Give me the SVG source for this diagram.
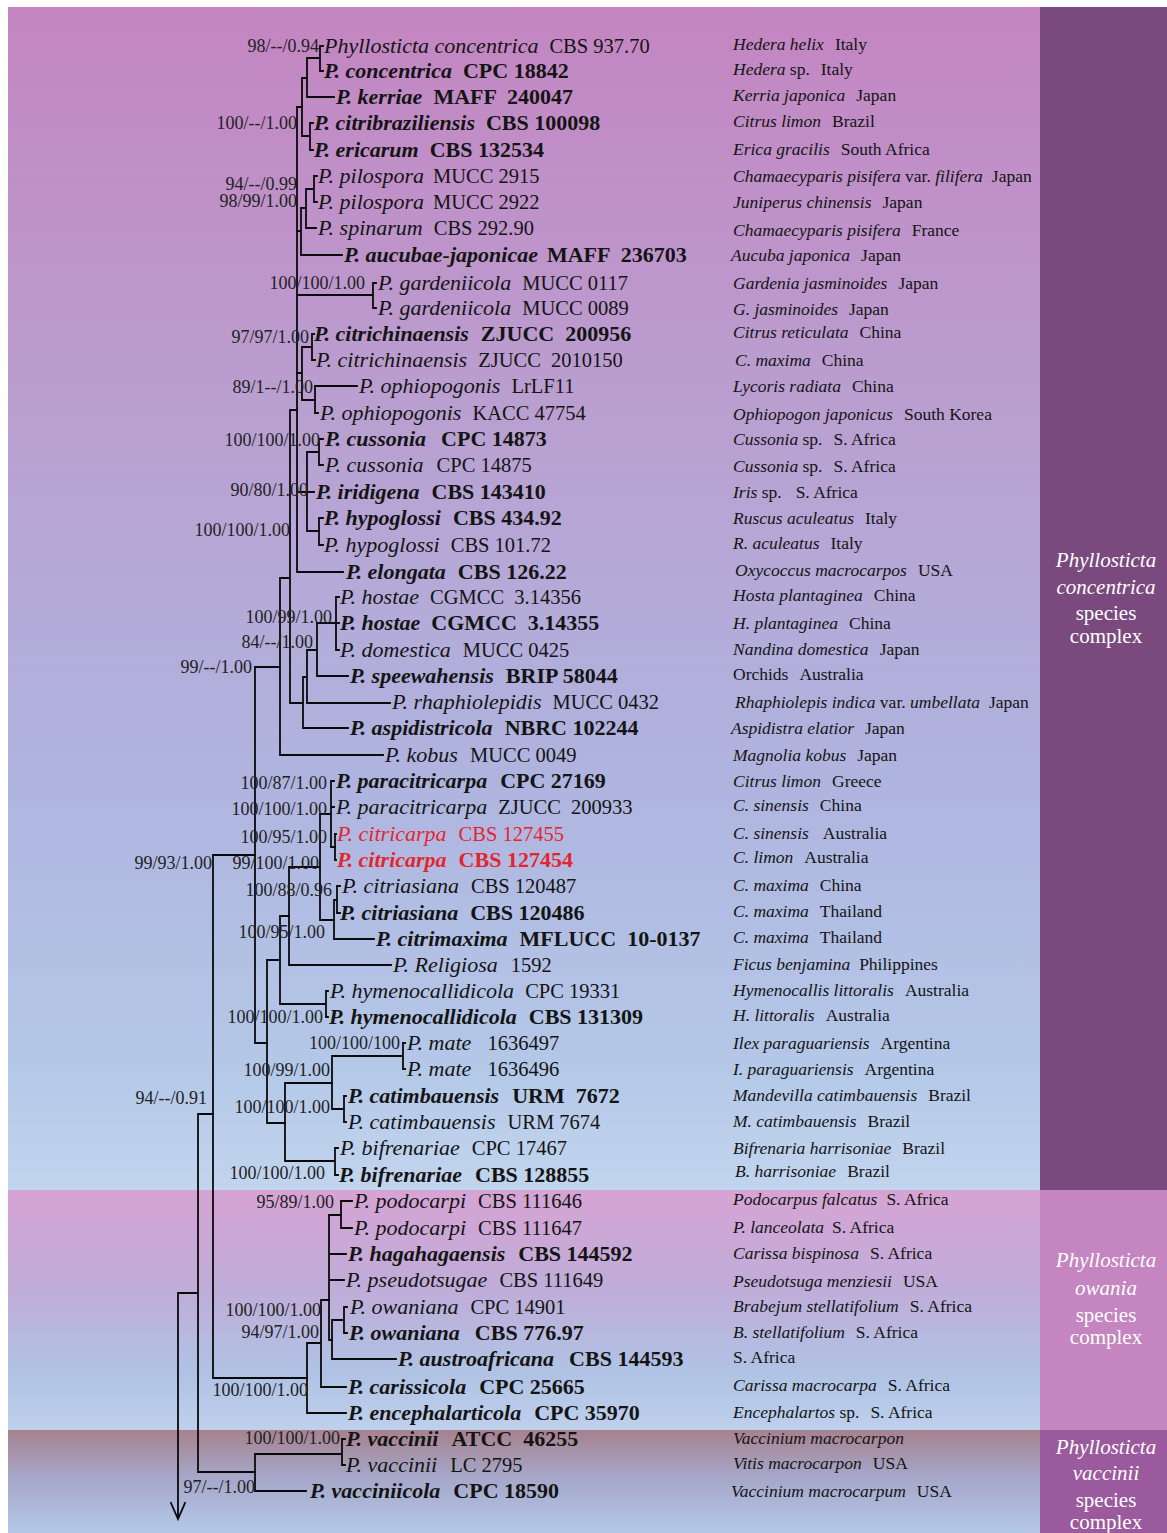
<svg xmlns="http://www.w3.org/2000/svg" width="1167" height="1533" viewBox="0 0 1167 1533">
<defs>
<linearGradient id="gMain" x1="0" y1="0" x2="0" y2="1">
<stop offset="0" stop-color="#c485c1"/>
<stop offset="0.35" stop-color="#b9a0d1"/>
<stop offset="0.65" stop-color="#afb4df"/>
<stop offset="0.9" stop-color="#b4c8e8"/>
<stop offset="1" stop-color="#c2d5ee"/>
</linearGradient>
<linearGradient id="gOw" x1="0" y1="0" x2="0" y2="1">
<stop offset="0" stop-color="#d6a4d4"/>
<stop offset="0.4" stop-color="#c0acd8"/>
<stop offset="0.75" stop-color="#b0c2e4"/>
<stop offset="1" stop-color="#bed0ec"/>
</linearGradient>
<linearGradient id="gVa" x1="0" y1="0" x2="0" y2="1">
<stop offset="0" stop-color="#a6828e"/>
<stop offset="0.45" stop-color="#a6a6c8"/>
<stop offset="1" stop-color="#b4c8e8"/>
</linearGradient>
</defs>
<style>
text{font-family:"Liberation Serif","Times New Roman",serif;fill:#141414;white-space:pre}
.tl{stroke:#0a0a0a;stroke-width:1.8;fill:none;stroke-linecap:square}
.r{font-size:20.5px}
.r .it{font-size:22px;font-style:italic}
.b{font-size:22px;font-weight:bold}
.b .it{font-style:italic}
.red{fill:#e3262c}
.red tspan{fill:#e3262c}
.h{font-size:17.5px}
.h .it{font-style:italic}
.s{font-size:18px;text-anchor:end;fill:#222}
.cx{font-size:21px;fill:#ffffff;text-anchor:middle}
.cx .it{font-style:italic}
</style>
<rect x="0" y="0" width="1167" height="1533" fill="#ffffff"/>
<g id="background">
<rect x="8" y="7" width="1032" height="1183" fill="url(#gMain)"/>
<rect x="1040" y="7" width="127" height="1183" fill="#7a4a7e"/>
<rect x="8" y="1190" width="1032" height="240" fill="url(#gOw)"/>
<rect x="1040" y="1190" width="127" height="240" fill="#c485c0"/>
<rect x="8" y="1430" width="1032" height="103" fill="url(#gVa)"/>
<rect x="1040" y="1430" width="127" height="103" fill="#9a5a9d"/>
</g>
<g id="connectors">
<path class="tl" d="M320 46V71M320 46H323M320 71H323M307 58H320M307 58V97H334"/>
<path class="tl" d="M302 78V136M302 78H307M302 136H310M310 123V150M310 123H313M310 150H313"/>
<path class="tl" d="M297 107V572H343M297 107H302"/>
<path class="tl" d="M314 176V202M314 176H317M314 202H317M306 189H314M306 189V228H316"/>
<path class="tl" d="M301 208H306M301 208V255H342M297 231H301"/>
<path class="tl" d="M297 295H373M373 283V308M373 283H376M373 308H376"/>
<path class="tl" d="M312 334V360M312 334H314M312 360H315M302 347H312M302 347V400H315M297 373H302"/>
<path class="tl" d="M315 386V413M315 386H357M315 413H318"/>
<path class="tl" d="M319 439V465M319 439H323M319 465H323M307 452H319M307 452V531H319M307 492H314M297 492H307"/>
<path class="tl" d="M319 518V545M319 518H323M319 545H323"/>
<path class="tl" d="M290 410H297M290 410V703H303"/>
<path class="tl" d="M336 597V650M336 597H339M336 623H339M336 650H339M317 623H336"/>
<path class="tl" d="M317 623V676H348M307 650H317M307 650V703H390M303 677H307M303 677V728H348"/>
<path class="tl" d="M280 578H290M280 578V755H383"/>
<path class="tl" d="M255 667H280M255 667V1043H267"/>
<path class="tl" d="M335 834V860M335 834H336M335 860H336"/>
<path class="tl" d="M331 781V847M331 781H334M331 807H334M331 847H335"/>
<path class="tl" d="M320 814H331M320 814V920H334"/>
<path class="tl" d="M337 886V913M337 886H340M337 913H340M334 900H337M334 900V939H374"/>
<path class="tl" d="M289 867H320M289 867V965H391"/>
<path class="tl" d="M280 916H289M280 916V1004H326M326 991V1017M326 991H328M326 1017H328"/>
<path class="tl" d="M267 960H280M267 960V1123H285"/>
<path class="tl" d="M285 1083V1161H335M285 1083H332M335 1148V1175M335 1148H338M335 1175H338"/>
<path class="tl" d="M332 1056V1109H344M332 1056H403M403 1043V1069M403 1043H405M403 1069H405M344 1096V1122M344 1096H346M344 1122H346"/>
<path class="tl" d="M213 855H255M213 855V1378H307"/>
<path class="tl" d="M307 1343V1413H346M307 1343H321M321 1300V1387H346M321 1300H329"/>
<path class="tl" d="M329 1215V1340M329 1215H341M329 1254H346M329 1280H344M329 1340H332"/>
<path class="tl" d="M341 1201V1228M341 1201H352M341 1228H352"/>
<path class="tl" d="M332 1320V1359H396M344 1307V1333M344 1307H347M344 1333H347M332 1320H344"/>
<path class="tl" d="M198 1114H213M198 1114V1472H255"/>
<path class="tl" d="M255 1454V1491H306M255 1454H342M342 1439V1465M342 1439H345M342 1465H345"/>
<path class="tl" d="M178 1293H198M178 1293V1518M171 1503L178 1519L185 1503"/>
</g>
<g id="support">
<text class="s" x="319" y="52">98/--/0.94</text>
<text class="s" x="297" y="129">100/--/1.00</text>
<text class="s" x="297" y="190">94/--/0.99</text>
<text class="s" x="297" y="207">98/99/1.00</text>
<text class="s" x="365" y="289">100/100/1.00</text>
<text class="s" x="309" y="343">97/97/1.00</text>
<text class="s" x="313" y="393">89/1--/1.00</text>
<text class="s" x="320" y="446">100/100/1.00</text>
<text class="s" x="308" y="496">90/80/1.00</text>
<text class="s" x="290" y="536">100/100/1.00</text>
<text class="s" x="332" y="623">100/99/1.00</text>
<text class="s" x="313" y="648">84/--/1.00</text>
<text class="s" x="252" y="673">99/--/1.00</text>
<text class="s" x="327" y="789">100/87/1.00</text>
<text class="s" x="327" y="815">100/100/1.00</text>
<text class="s" x="327" y="843">100/95/1.00</text>
<text class="s" x="212" y="869">99/93/1.00</text>
<text class="s" x="319" y="869">99/100/1.00</text>
<text class="s" x="332" y="896">100/88/0.96</text>
<text class="s" x="325" y="938">100/95/1.00</text>
<text class="s" x="323" y="1023">100/100/1.00</text>
<text class="s" x="400" y="1049">100/100/100</text>
<text class="s" x="330" y="1076">100/99/1.00</text>
<text class="s" x="207" y="1104">94/--/0.91</text>
<text class="s" x="330" y="1113">100/100/1.00</text>
<text class="s" x="325" y="1179">100/100/1.00</text>
<text class="s" x="334" y="1208">95/89/1.00</text>
<text class="s" x="321" y="1316">100/100/1.00</text>
<text class="s" x="319" y="1338">94/97/1.00</text>
<text class="s" x="308" y="1396">100/100/1.00</text>
<text class="s" x="340" y="1444">100/100/1.00</text>
<text class="s" x="255" y="1493">97/--/1.00</text>
</g>
<g id="taxa">
<g id="t01"><text class="r" x="324" y="53"><tspan class="it">Phyllosticta concentrica</tspan><tspan dx="11">CBS 937.70</tspan></text><text class="h" x="733" y="50"><tspan class="it">Hedera helix</tspan><tspan dx="11">Italy</tspan></text></g>
<g id="t02"><text class="b" x="324" y="78"><tspan class="it">P. concentrica</tspan><tspan dx="11">CPC 18842</tspan></text><text class="h" x="733" y="75"><tspan class="it">Hedera</tspan> sp.<tspan dx="11">Italy</tspan></text></g>
<g id="t03"><text class="b" x="336" y="104"><tspan class="it">P. kerriae</tspan><tspan dx="11">MAFF  240047</tspan></text><text class="h" x="733" y="101"><tspan class="it">Kerria japonica</tspan><tspan dx="11">Japan</tspan></text></g>
<g id="t04"><text class="b" x="314" y="130"><tspan class="it">P. citribraziliensis</tspan><tspan dx="11">CBS 100098</tspan></text><text class="h" x="733" y="127"><tspan class="it">Citrus limon</tspan><tspan dx="11">Brazil</tspan></text></g>
<g id="t05"><text class="b" x="314" y="157"><tspan class="it">P. ericarum</tspan><tspan dx="11">CBS 132534</tspan></text><text class="h" x="733" y="155"><tspan class="it">Erica gracilis</tspan><tspan dx="11">South Africa</tspan></text></g>
<g id="t06"><text class="r" x="318" y="183"><tspan class="it">P. pilospora</tspan><tspan dx="9">MUCC 2915</tspan></text><text class="h" x="733" y="182"><tspan class="it">Chamaecyparis pisifera</tspan> var. <tspan class="it">filifera</tspan><tspan dx="9">Japan</tspan></text></g>
<g id="t07"><text class="r" x="318" y="209"><tspan class="it">P. pilospora</tspan><tspan dx="9">MUCC 2922</tspan></text><text class="h" x="733" y="208"><tspan class="it">Juniperus chinensis</tspan><tspan dx="11">Japan</tspan></text></g>
<g id="t08"><text class="r" x="318" y="235"><tspan class="it">P. spinarum</tspan><tspan dx="11">CBS 292.90</tspan></text><text class="h" x="733" y="236"><tspan class="it">Chamaecyparis pisifera</tspan><tspan dx="11">France</tspan></text></g>
<g id="t09"><text class="b" x="344" y="262"><tspan class="it">P. aucubae-japonicae</tspan><tspan dx="9">MAFF  236703</tspan></text><text class="h" x="731" y="261"><tspan class="it">Aucuba japonica</tspan><tspan dx="11">Japan</tspan></text></g>
<g id="t10"><text class="r" x="378" y="290"><tspan class="it">P. gardeniicola</tspan><tspan dx="11">MUCC 0117</tspan></text><text class="h" x="733" y="289"><tspan class="it">Gardenia jasminoides</tspan><tspan dx="11">Japan</tspan></text></g>
<g id="t11"><text class="r" x="378" y="315"><tspan class="it">P. gardeniicola</tspan><tspan dx="11">MUCC 0089</tspan></text><text class="h" x="733" y="315"><tspan class="it">G. jasminoides</tspan><tspan dx="11">Japan</tspan></text></g>
<g id="t12"><text class="b" x="314" y="341"><tspan class="it">P. citrichinaensis</tspan><tspan dx="12">ZJUCC  200956</tspan></text><text class="h" x="733" y="338"><tspan class="it">Citrus reticulata</tspan><tspan dx="11">China</tspan></text></g>
<g id="t13"><text class="r" x="316" y="367"><tspan class="it">P. citrichinaensis</tspan><tspan dx="11">ZJUCC  2010150</tspan></text><text class="h" x="735" y="366"><tspan class="it">C. maxima</tspan><tspan dx="11">China</tspan></text></g>
<g id="t14"><text class="r" x="359" y="393"><tspan class="it">P. ophiopogonis</tspan><tspan dx="11">LrLF11</tspan></text><text class="h" x="733" y="392"><tspan class="it">Lycoris radiata</tspan><tspan dx="11">China</tspan></text></g>
<g id="t15"><text class="r" x="320" y="420"><tspan class="it">P. ophiopogonis</tspan><tspan dx="11">KACC 47754</tspan></text><text class="h" x="733" y="420"><tspan class="it">Ophiopogon japonicus</tspan><tspan dx="11">South Korea</tspan></text></g>
<g id="t16"><text class="b" x="325" y="446"><tspan class="it">P. cussonia</tspan><tspan dx="15">CPC 14873</tspan></text><text class="h" x="733" y="445"><tspan class="it">Cussonia</tspan> sp.<tspan dx="11">S. Africa</tspan></text></g>
<g id="t17"><text class="r" x="325" y="472"><tspan class="it">P. cussonia</tspan><tspan dx="13">CPC 14875</tspan></text><text class="h" x="733" y="472"><tspan class="it">Cussonia</tspan> sp.<tspan dx="11">S. Africa</tspan></text></g>
<g id="t18"><text class="b" x="316" y="499"><tspan class="it">P. iridigena</tspan><tspan dx="12">CBS 143410</tspan></text><text class="h" x="733" y="498"><tspan class="it">Iris</tspan> sp.<tspan dx="14">S. Africa</tspan></text></g>
<g id="t19"><text class="b" x="324" y="525"><tspan class="it">P. hypoglossi</tspan><tspan dx="12">CBS 434.92</tspan></text><text class="h" x="733" y="524"><tspan class="it">Ruscus aculeatus</tspan><tspan dx="11">Italy</tspan></text></g>
<g id="t20"><text class="r" x="324" y="552"><tspan class="it">P. hypoglossi</tspan><tspan dx="11">CBS 101.72</tspan></text><text class="h" x="733" y="549"><tspan class="it">R. aculeatus</tspan><tspan dx="11">Italy</tspan></text></g>
<g id="t21"><text class="b" x="346" y="579"><tspan class="it">P. elongata</tspan><tspan dx="12">CBS 126.22</tspan></text><text class="h" x="735" y="576"><tspan class="it">Oxycoccus macrocarpos</tspan><tspan dx="11">USA</tspan></text></g>
<g id="t22"><text class="r" x="340" y="604"><tspan class="it">P. hostae</tspan><tspan dx="11">CGMCC  3.14356</tspan></text><text class="h" x="733" y="601"><tspan class="it">Hosta plantaginea</tspan><tspan dx="11">China</tspan></text></g>
<g id="t23"><text class="b" x="340" y="630"><tspan class="it">P. hostae</tspan><tspan dx="11">CGMCC  3.14355</tspan></text><text class="h" x="733" y="629"><tspan class="it">H. plantaginea</tspan><tspan dx="11">China</tspan></text></g>
<g id="t24"><text class="r" x="340" y="657"><tspan class="it">P. domestica</tspan><tspan dx="12">MUCC 0425</tspan></text><text class="h" x="733" y="655"><tspan class="it">Nandina domestica</tspan><tspan dx="11">Japan</tspan></text></g>
<g id="t25"><text class="b" x="350" y="683"><tspan class="it">P. speewahensis</tspan><tspan dx="12">BRIP 58044</tspan></text><text class="h" x="733" y="680">Orchids<tspan dx="11">Australia</tspan></text></g>
<g id="t26"><text class="r" x="392" y="709"><tspan class="it">P. rhaphiolepidis</tspan><tspan dx="11">MUCC 0432</tspan></text><text class="h" x="735" y="708"><tspan class="it">Rhaphiolepis indica</tspan> var. <tspan class="it">umbellata</tspan><tspan dx="9">Japan</tspan></text></g>
<g id="t27"><text class="b" x="350" y="735"><tspan class="it">P. aspidistricola</tspan><tspan dx="12">NBRC 102244</tspan></text><text class="h" x="731" y="734"><tspan class="it">Aspidistra elatior</tspan><tspan dx="11">Japan</tspan></text></g>
<g id="t28"><text class="r" x="385" y="762"><tspan class="it">P. kobus</tspan><tspan dx="12">MUCC 0049</tspan></text><text class="h" x="733" y="761"><tspan class="it">Magnolia kobus</tspan><tspan dx="11">Japan</tspan></text></g>
<g id="t29"><text class="b" x="336" y="788"><tspan class="it">P. paracitricarpa</tspan><tspan dx="13">CPC 27169</tspan></text><text class="h" x="733" y="787"><tspan class="it">Citrus limon</tspan><tspan dx="11">Greece</tspan></text></g>
<g id="t30"><text class="r" x="336" y="814"><tspan class="it">P. paracitricarpa</tspan><tspan dx="11">ZJUCC  200933</tspan></text><text class="h" x="733" y="811"><tspan class="it">C. sinensis</tspan><tspan dx="11">China</tspan></text></g>
<g id="t31"><text class="r red" x="337" y="841"><tspan class="it">P. citricarpa</tspan><tspan dx="12">CBS 127455</tspan></text><text class="h" x="733" y="839"><tspan class="it">C. sinensis</tspan><tspan dx="14">Australia</tspan></text></g>
<g id="t32"><text class="b red" x="337" y="867"><tspan class="it">P. citricarpa</tspan><tspan dx="12">CBS 127454</tspan></text><text class="h" x="733" y="863"><tspan class="it">C. limon</tspan><tspan dx="11">Australia</tspan></text></g>
<g id="t33"><text class="r" x="342" y="893"><tspan class="it">P. citriasiana</tspan><tspan dx="12">CBS 120487</tspan></text><text class="h" x="733" y="891"><tspan class="it">C. maxima</tspan><tspan dx="11">China</tspan></text></g>
<g id="t34"><text class="b" x="340" y="920"><tspan class="it">P. citriasiana</tspan><tspan dx="12">CBS 120486</tspan></text><text class="h" x="733" y="917"><tspan class="it">C. maxima</tspan><tspan dx="11">Thailand</tspan></text></g>
<g id="t35"><text class="b" x="376" y="946"><tspan class="it">P. citrimaxima</tspan><tspan dx="12">MFLUCC  10-0137</tspan></text><text class="h" x="733" y="943"><tspan class="it">C. maxima</tspan><tspan dx="11">Thailand</tspan></text></g>
<g id="t36"><text class="r" x="393" y="972"><tspan class="it">P. Religiosa</tspan><tspan dx="13">1592</tspan></text><text class="h" x="733" y="970"><tspan class="it">Ficus benjamina</tspan><tspan dx="9">Philippines</tspan></text></g>
<g id="t37"><text class="r" x="330" y="998"><tspan class="it">P. hymenocallidicola</tspan><tspan dx="11">CPC 19331</tspan></text><text class="h" x="733" y="996"><tspan class="it">Hymenocallis littoralis</tspan><tspan dx="11">Australia</tspan></text></g>
<g id="t38"><text class="b" x="329" y="1024"><tspan class="it">P. hymenocallidicola</tspan><tspan dx="12">CBS 131309</tspan></text><text class="h" x="733" y="1021"><tspan class="it">H. littoralis</tspan><tspan dx="11">Australia</tspan></text></g>
<g id="t39"><text class="r" x="407" y="1050"><tspan class="it">P. mate</tspan><tspan dx="16">1636497</tspan></text><text class="h" x="733" y="1049"><tspan class="it">Ilex paraguariensis</tspan><tspan dx="11">Argentina</tspan></text></g>
<g id="t40"><text class="r" x="407" y="1076"><tspan class="it">P. mate</tspan><tspan dx="16">1636496</tspan></text><text class="h" x="733" y="1075"><tspan class="it">I. paraguariensis</tspan><tspan dx="11">Argentina</tspan></text></g>
<g id="t41"><text class="b" x="348" y="1103"><tspan class="it">P. catimbauensis</tspan><tspan dx="13">URM  7672</tspan></text><text class="h" x="733" y="1101"><tspan class="it">Mandevilla catimbauensis</tspan><tspan dx="11">Brazil</tspan></text></g>
<g id="t42"><text class="r" x="348" y="1129"><tspan class="it">P. catimbauensis</tspan><tspan dx="12">URM 7674</tspan></text><text class="h" x="733" y="1127"><tspan class="it">M. catimbauensis</tspan><tspan dx="11">Brazil</tspan></text></g>
<g id="t43"><text class="r" x="340" y="1155"><tspan class="it">P. bifrenariae</tspan><tspan dx="12">CPC 17467</tspan></text><text class="h" x="733" y="1154"><tspan class="it">Bifrenaria harrisoniae</tspan><tspan dx="11">Brazil</tspan></text></g>
<g id="t44"><text class="b" x="339" y="1182"><tspan class="it">P. bifrenariae</tspan><tspan dx="13">CBS 128855</tspan></text><text class="h" x="735" y="1177"><tspan class="it">B. harrisoniae</tspan><tspan dx="11">Brazil</tspan></text></g>
<g id="t45"><text class="r" x="354" y="1208"><tspan class="it">P. podocarpi</tspan><tspan dx="12">CBS 111646</tspan></text><text class="h" x="733" y="1205"><tspan class="it">Podocarpus falcatus</tspan><tspan dx="9">S. Africa</tspan></text></g>
<g id="t46"><text class="r" x="354" y="1235"><tspan class="it">P. podocarpi</tspan><tspan dx="12">CBS 111647</tspan></text><text class="h" x="733" y="1233"><tspan class="it">P. lanceolata</tspan><tspan dx="8">S. Africa</tspan></text></g>
<g id="t47"><text class="b" x="348" y="1261"><tspan class="it">P. hagahagaensis</tspan><tspan dx="13">CBS 144592</tspan></text><text class="h" x="733" y="1259"><tspan class="it">Carissa bispinosa</tspan><tspan dx="11">S. Africa</tspan></text></g>
<g id="t48"><text class="r" x="346" y="1287"><tspan class="it">P. pseudotsugae</tspan><tspan dx="12">CBS 111649</tspan></text><text class="h" x="733" y="1287"><tspan class="it">Pseudotsuga menziesii</tspan><tspan dx="11">USA</tspan></text></g>
<g id="t49"><text class="r" x="350" y="1314"><tspan class="it">P. owaniana</tspan><tspan dx="12">CPC 14901</tspan></text><text class="h" x="733" y="1312"><tspan class="it">Brabejum stellatifolium</tspan><tspan dx="11">S. Africa</tspan></text></g>
<g id="t50"><text class="b" x="349" y="1340"><tspan class="it">P. owaniana</tspan><tspan dx="15">CBS 776.97</tspan></text><text class="h" x="733" y="1338"><tspan class="it">B. stellatifolium</tspan><tspan dx="11">S. Africa</tspan></text></g>
<g id="t51"><text class="b" x="398" y="1366"><tspan class="it">P. austroafricana</tspan><tspan dx="15">CBS 144593</tspan></text><text class="h" x="733" y="1363">S. Africa</text></g>
<g id="t52"><text class="b" x="348" y="1394"><tspan class="it">P. carissicola</tspan><tspan dx="13">CPC 25665</tspan></text><text class="h" x="733" y="1391"><tspan class="it">Carissa macrocarpa</tspan><tspan dx="11">S. Africa</tspan></text></g>
<g id="t53"><text class="b" x="348" y="1420"><tspan class="it">P. encephalarticola</tspan><tspan dx="13">CPC 35970</tspan></text><text class="h" x="733" y="1418"><tspan class="it">Encephalartos</tspan> sp.<tspan dx="11">S. Africa</tspan></text></g>
<g id="t54"><text class="b" x="346" y="1446"><tspan class="it">P. vaccinii</tspan><tspan dx="13">ATCC  46255</tspan></text><text class="h" x="733" y="1444"><tspan class="it">Vaccinium macrocarpon</tspan></text></g>
<g id="t55"><text class="r" x="346" y="1472"><tspan class="it">P. vaccinii</tspan><tspan dx="13">LC 2795</tspan></text><text class="h" x="733" y="1469"><tspan class="it">Vitis macrocarpon</tspan><tspan dx="11">USA</tspan></text></g>
<g id="t56"><text class="b" x="310" y="1498"><tspan class="it">P. vacciniicola</tspan><tspan dx="13">CPC 18590</tspan></text><text class="h" x="731" y="1497"><tspan class="it">Vaccinium macrocarpum</tspan><tspan dx="11">USA</tspan></text></g>
</g>
<g id="complex-concentrica">
<text class="cx" x="1106" y="567"><tspan class="it">Phyllosticta</tspan></text>
<text class="cx" x="1106" y="594"><tspan class="it">concentrica</tspan></text>
<text class="cx" x="1106" y="620">species</text>
<text class="cx" x="1106" y="643">complex</text>
</g>
<g id="complex-owania">
<text class="cx" x="1106" y="1267"><tspan class="it">Phyllosticta</tspan></text>
<text class="cx" x="1106" y="1295"><tspan class="it">owania</tspan></text>
<text class="cx" x="1106" y="1322">species</text>
<text class="cx" x="1106" y="1344">complex</text>
</g>
<g id="complex-vaccinii">
<text class="cx" x="1106" y="1454"><tspan class="it">Phyllosticta</tspan></text>
<text class="cx" x="1106" y="1480"><tspan class="it">vaccinii</tspan></text>
<text class="cx" x="1106" y="1507">species</text>
<text class="cx" x="1106" y="1529">complex</text>
</g>
</svg>
